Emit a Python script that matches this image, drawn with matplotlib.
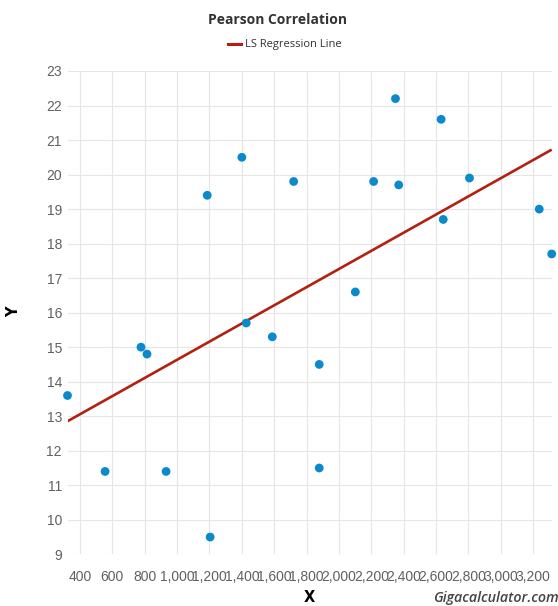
import matplotlib.pyplot as plt
import numpy as np

# データ
x_vals = [323, 555, 777, 814, 932, 1186, 1204, 1400, 1427, 1588, 1720,
          1878, 1878, 2101, 2214, 2349, 2369, 2631, 2644, 2806, 3237, 3314]
y_vals = [13.6, 11.4, 15.0, 14.8, 11.4, 19.4, 9.5, 20.5, 15.7, 15.3, 19.8,
          14.5, 11.5, 16.6, 19.8, 22.2, 19.7, 21.6, 18.7, 19.9, 19.0, 17.7]
x_ticks = list(range(400, 3201, 200))
y_ticks = list(range(9, 24))

x = np.array(x_vals, dtype=float)
y = np.array(y_vals, dtype=float)

# 最小二乗回帰
slope, intercept = np.polyfit(x, y, 1)
line_x = np.array([x.min(), x.max()])
line_y = slope * line_x + intercept

fig = plt.figure(figsize=(5.58, 6.06), dpi=100)
ax = fig.add_axes([67.5 / 558, 1 - 554.3 / 606, (551.7 - 67.5) / 558, (554.3 - 71) / 606])

ax.plot(line_x, line_y, color="#b3200e", lw=1.9, zorder=2, solid_capstyle="butt")
ax.scatter(x, y, s=40, color="#0a8acb", edgecolors="none", zorder=3, clip_on=False)

ax.set_xlim(x.min(), x.max())
ax.set_ylim(9, 23)
ax.set_xticks(x_ticks)
ax.set_xticklabels([f"{v:,}" for v in x_ticks])
ax.set_yticks(y_ticks)
ax.grid(True, color="#e6e6e6", lw=0.8, zorder=0)
ax.set_axisbelow(True)
for s in ax.spines.values():
    s.set_visible(False)
ax.tick_params(length=0, labelsize=10, labelcolor="#606060", labelfontfamily="Liberation Sans")
ax.tick_params(axis="x", pad=11)
ax.tick_params(axis="y", pad=4)

fig.text(277 / 558, 1 - 20 / 606, "Pearson Correlation", ha="center", va="center",
         fontsize=10, fontweight="bold", color="#333333", family="Open Sans")
fig.lines.append(plt.Line2D([228 / 558, 241 / 558], [1 - 44 / 606, 1 - 44 / 606],
                            transform=fig.transFigure, color="#b3200e", lw=2.2))
fig.text(245 / 558, 1 - 44 / 606, "LS Regression Line", ha="left", va="center",
         fontsize=8, color="#333333", family="Open Sans")
fig.text(14 / 558, 1 - 312 / 606, "Y", rotation=90, ha="center", va="center",
         fontsize=10.5, fontweight="bold", color="#000000")
fig.text(309 / 558, 1 - 598 / 606, "X", ha="center", va="center",
         fontsize=10.5, fontweight="bold", color="#000000")
fig.text(433 / 558, 1 - 598 / 606, "Gigacalculator.com", ha="left", va="center",
         fontsize=10.3, style="italic", fontweight="semibold", color="#444444", family="Open Sans")

fig.savefig("out.png", dpi=100)
